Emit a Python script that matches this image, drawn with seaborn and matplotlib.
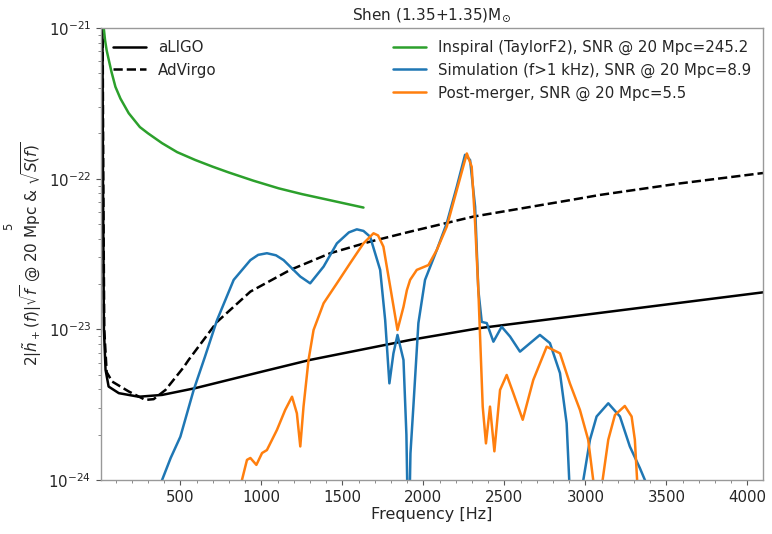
import numpy as np
import pandas as pd
import matplotlib
matplotlib.use("Agg")
import matplotlib.pyplot as plt
from matplotlib.ticker import NullFormatter, FixedLocator
import seaborn as sns

# ---- data ----
aligo_f = [12, 19, 22, 28, 38, 57, 120, 243, 387, 592, 1004, 1301, 1918, 2350, 3583, 4096]
aligo_h = [3e-21, 1e-21, 1e-22, 1e-23, 5.4e-24, 4.17e-24, 3.77e-24, 3.57e-24, 3.67e-24,
           4.07e-24, 5.24e-24, 6.27e-24, 8.5e-24, 1.02e-23, 1.50e-23, 1.76e-23]

advirgo_f = [12, 20, 24, 30, 45, 79, 181, 284, 335, 408, 520, 551, 726, 932, 1178, 1425,
             1671, 1918, 2308, 2904, 3090, 3583, 4096]
advirgo_h = [3e-21, 1e-21, 1e-22, 1e-23, 5.2e-24, 4.5e-24, 3.87e-24, 3.40e-24, 3.44e-24,
             3.96e-24, 5.6e-24, 6.27e-24, 1.12e-23, 1.78e-23, 2.48e-23, 3.2e-23, 3.82e-23,
             4.45e-23, 5.6e-23, 7.2e-23, 7.8e-23, 9.3e-23, 1.09e-22]

insp_f = [20, 27, 35, 45, 58, 75, 99, 130, 181, 250, 300, 387, 480, 592, 700, 798, 950,
          1106, 1250, 1414, 1500, 1630]
insp_h = [1.3e-21, 1.0e-21, 8.3e-22, 7.1e-22, 6.14e-22, 5.1e-22, 4.07e-22, 3.4e-22,
          2.72e-22, 2.2e-22, 2.0e-22, 1.72e-22, 1.5e-22, 1.33e-22, 1.2e-22, 1.10e-22,
          9.7e-23, 8.63e-23, 7.9e-23, 7.23e-23, 6.9e-23, 6.43e-23]

sim_f = [360, 387, 440, 500, 582, 650, 726, 829, 932, 980, 1034, 1090, 1137, 1240, 1301,
         1384, 1466, 1540, 1589, 1630, 1671, 1733, 1764, 1790, 1815, 1840, 1877, 1895, 1908,
         1920, 1938, 1969, 2010, 2083, 2144, 2206, 2257, 2288, 2319, 2339, 2360, 2391, 2432,
         2483, 2535, 2596, 2658, 2719, 2781, 2843, 2884, 2900, 2915,
         2975, 2987, 3028, 3069, 3141, 3213, 3274, 3336, 3367, 3380]
sim_h = [7e-25, 1e-24, 1.4e-24, 1.94e-24, 3.96e-24, 6.5e-24, 1.15e-23, 2.13e-23, 2.88e-23,
         3.12e-23, 3.2e-23, 3.1e-23, 2.88e-23, 2.24e-23, 2.02e-23, 2.61e-23, 3.72e-23,
         4.4e-23, 4.61e-23, 4.5e-23, 4.12e-23, 2.48e-23, 1.15e-23, 4.38e-24, 6.93e-24,
         9.18e-24, 6.26e-24, 2.0e-24, 3e-25, 1.5e-24, 3.07e-24, 1.1e-23, 2.13e-23,
         3.37e-23, 5.06e-23, 8.85e-23, 1.44e-22, 1.33e-22, 6.52e-23, 1.82e-23, 1.12e-23,
         1.1e-23, 8.28e-24, 1.04e-23, 8.95e-24, 7.11e-24, 8.09e-24, 9.18e-24, 8.1e-24,
         5.12e-24, 2.38e-24, 1e-24, 6e-25,
         6e-25, 1e-24, 1.85e-24, 2.64e-24, 3.23e-24, 2.64e-24, 1.67e-24, 1.2e-24, 1e-24, 7e-25]

pm_f = [870, 880, 911, 932, 969, 1004, 1034, 1096, 1147, 1189, 1219, 1240, 1260, 1291, 1322,
        1384, 1466, 1548, 1630, 1692, 1720, 1753, 1795, 1840, 1877, 1898, 1918, 1959, 2031,
        2083, 2144, 2206, 2268, 2298, 2319, 2339, 2366, 2386, 2411, 2438, 2473, 2514, 2555,
        2613, 2678, 2761, 2843, 2904, 2966, 3017, 3048, 3060,
        3095, 3106, 3141, 3182, 3243, 3285, 3305, 3319, 3330]
pm_h = [7e-25, 1e-24, 1.36e-24, 1.40e-24, 1.26e-24, 1.51e-24, 1.58e-24, 2.15e-24, 2.92e-24,
        3.57e-24, 2.77e-24, 1.67e-24, 3.07e-24, 6.27e-24, 9.9e-24, 1.49e-23, 2.02e-23,
        2.75e-23, 3.72e-23, 4.34e-23, 4.2e-23, 3.54e-23, 1.92e-23, 9.9e-24, 1.41e-23,
        1.82e-23, 2.13e-23, 2.48e-23, 2.67e-23, 3.37e-23, 4.8e-23, 8.4e-23, 1.47e-22,
        1.2e-22, 5.06e-23, 1.82e-23, 3.07e-24, 1.75e-24, 3.07e-24, 1.55e-24, 3.96e-24,
        4.98e-24, 3.77e-24, 2.51e-24, 4.61e-24, 7.67e-24, 6.93e-24, 4.38e-24, 2.92e-24,
        1.85e-24, 1e-24, 7e-25,
        7e-25, 1e-24, 1.85e-24, 2.7e-24, 3.1e-24, 2.64e-24, 1.85e-24, 1e-24, 7e-25]

det_labels = ["aLIGO", "AdVirgo"]
sig_labels = ["Inspiral (TaylorF2), SNR @ 20 Mpc=245.2",
              "Simulation (f>1 kHz), SNR @ 20 Mpc=8.9",
              "Post-merger, SNR @ 20 Mpc=5.5"]
title = r"Shen (1.35+1.35)M$_{\odot}$"
xlabel = "Frequency [Hz]"
ylabel = r"$2|\tilde{h}_+(f)|\sqrt{f}$ @ 20 Mpc & $\sqrt{S(f)}$"
xticks = [500, 1000, 1500, 2000, 2500, 3000, 3500, 4000]
yticks = [1e-24, 1e-23, 1e-22, 1e-21]

# ---- plotting ----
sns.set_theme(style="ticks")
plt.rcParams["font.family"] = ["DejaVu Sans"]

fig = plt.figure(figsize=(7.72, 5.34), dpi=100)
ax = fig.add_axes([101/772, 1-480/534, (763-101)/772, (480-28)/534])

def draw(f, h, name, **kw):
    df = pd.DataFrame({"f": f, "h": h})
    sns.lineplot(data=df, x="f", y="h", ax=ax, estimator=None, sort=False,
                 label=name, **kw)

lw = 1.8
draw(aligo_f, aligo_h, det_labels[0], color="black", lw=lw)
draw(advirgo_f, advirgo_h, det_labels[1], color="black", lw=lw, linestyle="--")
draw(insp_f, insp_h, sig_labels[0], color="#2ca02c", lw=lw)
draw(sim_f, sim_h, sig_labels[1], color="#1f77b4", lw=lw)
draw(pm_f, pm_h, sig_labels[2], color="#ff7f0e", lw=lw)

ax.set_yscale("log")
ax.set_xlim(10, 4096)
ax.set_ylim(1e-24, 1e-21)
ax.set_yticks(yticks)
minor_y = [m * 10.0**e for e in (-24, -23, -22) for m in range(2, 10)]
ax.yaxis.set_minor_locator(FixedLocator(minor_y))
ax.yaxis.set_minor_formatter(NullFormatter())
ax.set_xticks(xticks)
ax.set_xticks(np.arange(100, 4100, 100), minor=True)
ax.tick_params(axis="both", which="major", labelsize=10.8, length=3.5, width=0.8,
               color="#555555", direction="out")
ax.tick_params(axis="both", which="minor", length=2, width=0.6, color="#777777",
               direction="out")
for s in ax.spines.values():
    s.set_color("#999999")
    s.set_linewidth(1.0)

ax.set_title(title, fontsize=11, pad=6)
ax.set_xlabel(xlabel, fontsize=11.5, labelpad=2)
ax.set_ylabel(ylabel, fontsize=11, labelpad=3)

handles, labels = ax.get_legend_handles_labels()
leg1 = ax.legend(handles[:2], labels[:2], loc="upper left", frameon=False, fontsize=10.8,
                 handlelength=2.2, borderaxespad=0.4, labelspacing=0.5)
ax.add_artist(leg1)
ax.legend(handles[2:], labels[2:], loc="upper right", frameon=False, fontsize=10.8,
          handlelength=2.2, borderaxespad=0.4, labelspacing=0.5)

fig.text(2/772, 1-226/534, "5", rotation=90, fontsize=8.5, ha="left", va="center")

fig.savefig("out.png", dpi=100)
